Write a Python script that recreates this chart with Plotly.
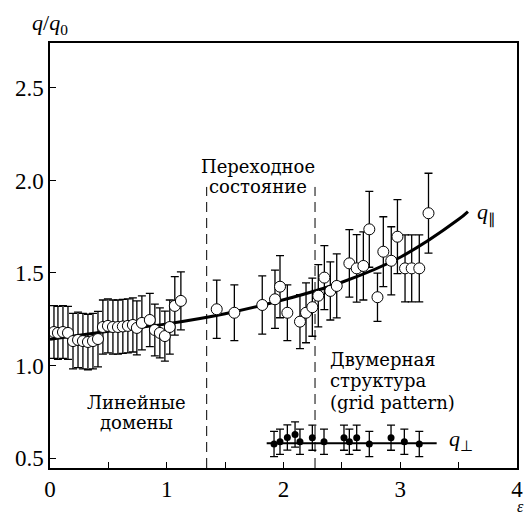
import plotly.graph_objects as go

# ---- data ----
par_x = [0.034, 0.068, 0.111, 0.154, 0.197, 0.240, 0.282, 0.325, 0.368, 0.411,
         0.453, 0.496, 0.539, 0.582, 0.624, 0.667, 0.710, 0.744, 0.787, 0.855,
         0.898, 0.941, 0.984, 1.026, 1.069, 1.121,
         1.428, 1.579, 1.818, 1.927, 1.970, 2.033, 2.141, 2.193, 2.247, 2.298,
         2.350, 2.401, 2.456, 2.564, 2.627, 2.684, 2.735, 2.805, 2.855, 2.923,
         2.976, 3.041, 3.098, 3.163, 3.242]
par_y = [1.181, 1.176, 1.181, 1.176, 1.132, 1.138, 1.132, 1.127, 1.132, 1.143,
         1.208, 1.214, 1.208, 1.208, 1.211, 1.214, 1.219, 1.203, 1.230, 1.246,
         1.192, 1.176, 1.159, 1.208, 1.322, 1.349,
         1.304, 1.285, 1.327, 1.358, 1.426, 1.285, 1.237, 1.285, 1.315, 1.377,
         1.475, 1.403, 1.430, 1.552, 1.525, 1.538, 1.736, 1.369, 1.615, 1.566,
         1.696, 1.525, 1.525, 1.525, 1.823]
par_err = [0.143, 0.143, 0.143, 0.143, 0.150, 0.150, 0.150, 0.150, 0.150, 0.150,
           0.146, 0.146, 0.146, 0.146, 0.146, 0.146, 0.146, 0.146, 0.146, 0.144,
           0.140, 0.135, 0.135, 0.146, 0.158, 0.157,
           0.157, 0.151, 0.157, 0.157, 0.168, 0.151, 0.146, 0.162, 0.157, 0.168,
           0.173, 0.157, 0.173, 0.182, 0.182, 0.184, 0.205, 0.130, 0.189, 0.184,
           0.200, 0.181, 0.181, 0.181, 0.216]

perp_x = [1.919, 1.970, 2.033, 2.099, 2.141, 2.247, 2.347, 2.518, 2.564, 2.627,
          2.735, 2.921, 3.035, 3.163]
perp_y = [0.576, 0.588, 0.611, 0.627, 0.588, 0.610, 0.588, 0.610, 0.588, 0.610,
          0.576, 0.610, 0.588, 0.576]
perp_err = [0.068] * 14

fit_x = [0.0, 0.5, 1.0, 1.5, 2.0, 2.5, 3.0, 3.5, 3.58]
fit_y = [1.142, 1.185, 1.225, 1.280, 1.355, 1.450, 1.585, 1.790, 1.832]

perp_line_x = [1.856, 3.312]
perp_line_y = [0.580, 0.580]

dash_x = [1.342, 2.270]
dash_top = 1.965
y_bottom = 0.446

x_ticks = [0, 1, 2, 3, 4]
y_ticks = [0.5, 1.0, 1.5, 2.0, 2.5]
y_tick_text = ["0.5", "1.0", "1.5", "2.0", "2.5"]

FONT = "DejaVu Serif"
TICKFONT = "Liberation Serif"

fig = go.Figure()

# dashed region borders
for xd in dash_x:
    fig.add_trace(go.Scatter(x=[xd, xd], y=[y_bottom, dash_top], mode="lines",
                             line=dict(color="black", width=1, dash="10px,6px"),
                             showlegend=False, hoverinfo="skip"))

# fit curve
fig.add_trace(go.Scatter(x=fit_x, y=fit_y, mode="lines",
                         line=dict(color="black", width=3, shape="spline"),
                         showlegend=False))

# perpendicular line
fig.add_trace(go.Scatter(x=perp_line_x, y=perp_line_y, mode="lines",
                         line=dict(color="black", width=2),
                         showlegend=False))

# q parallel points
fig.add_trace(go.Scatter(x=par_x, y=par_y, mode="markers",
                         marker=dict(symbol="circle", size=11, color="white",
                                     line=dict(color="black", width=1)),
                         error_y=dict(type="data", array=par_err, color="black",
                                      thickness=1.3, width=4),
                         showlegend=False))

# q perp points
fig.add_trace(go.Scatter(x=perp_x, y=perp_y, mode="markers",
                         marker=dict(symbol="circle", size=7, color="black"),
                         error_y=dict(type="data", array=perp_err, color="black",
                                      thickness=1.3, width=4),
                         showlegend=False))

ann = []
def txt(x, y, s, size=18, xanchor="center", xref="x", yref="y", family=FONT):
    ann.append(dict(x=x, y=y, xref=xref, yref=yref, text=s, showarrow=False,
                    xanchor=xanchor, yanchor="middle",
                    font=dict(family=family, size=size, color="black")))

txt(1.78, 2.078, "Переходное")
txt(1.78, 1.968, "состояние")
txt(0.744, 0.802, "Линейные")
txt(0.744, 0.692, "домены")
txt(2.378, 1.035, "Двумерная", xanchor="left")
txt(2.378, 0.918, "структура", xanchor="left")
txt(2.378, 0.800, "(grid pattern)", xanchor="left")
txt(3.64, 1.824, "<i>q</i><sub>∥</sub>", size=22, xanchor="left", family=TICKFONT)
txt(3.40, 0.597, "<i>q</i><sub>⊥</sub>", size=22, xanchor="left", family=TICKFONT)
txt(0.0, 1.045, "<i>q</i>/<i>q</i><sub>0</sub>", size=22, xref="paper", yref="paper",
    family=TICKFONT)
txt(1.008, -0.091, "<i>ε</i>", size=16, xref="paper", yref="paper", family=TICKFONT)

axis_common = dict(ticks="inside", ticklen=6, tickwidth=1, tickcolor="black",
                   showgrid=False, zeroline=False, showline=True,
                   linecolor="black", linewidth=1.5, mirror=True,
                   automargin=False, tickfont=dict(family=TICKFONT, size=23))

fig.update_layout(
    width=526, height=515,
    margin=dict(l=50, r=9, t=43, b=47),
    paper_bgcolor="white", plot_bgcolor="white",
    font=dict(family=TICKFONT, size=22, color="black"),
    annotations=ann,
    xaxis=dict(range=[0, 4], tickvals=x_ticks,
               minor=dict(dtick=0.5, ticks="inside", ticklen=6, tickcolor="black",
                          showgrid=False),
               **axis_common),
    yaxis=dict(range=[y_bottom, 2.743], tickvals=y_ticks, ticktext=y_tick_text,
               **axis_common),
)

# remove the default page margin so the figure fills the window exactly
fig.write_html("out.html",
               config={"displayModeBar": False},
               post_script="document.body.style.margin='0';"
                           "document.documentElement.style.overflow='hidden';")
